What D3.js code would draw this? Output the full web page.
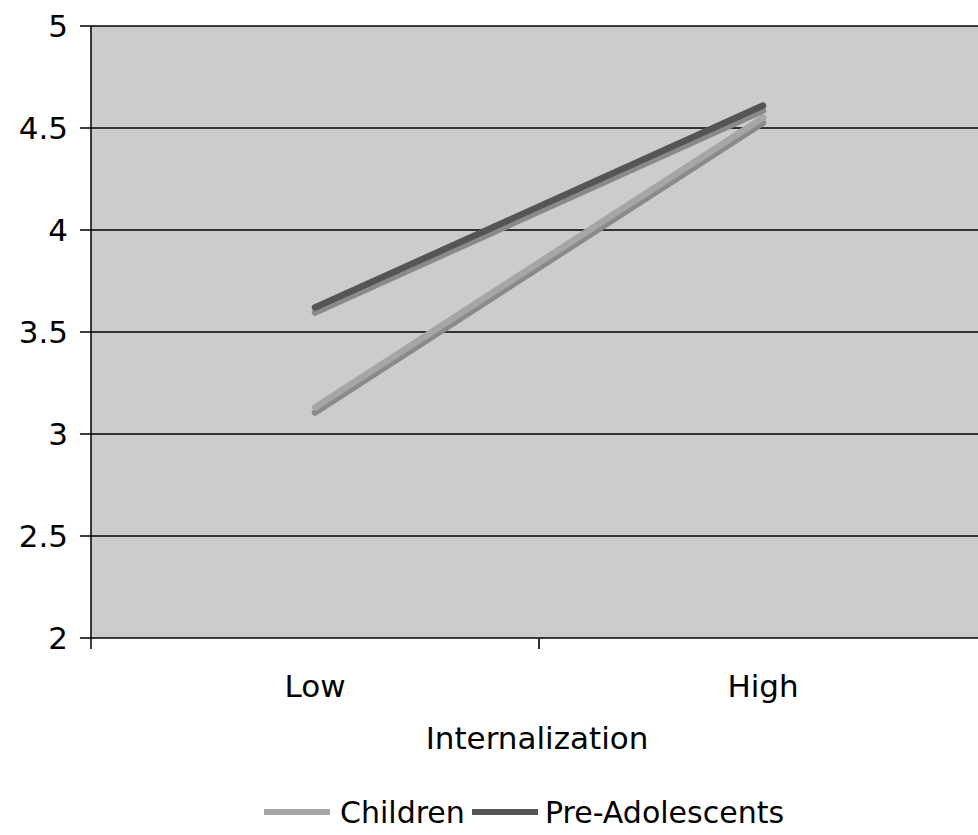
<!DOCTYPE html>
<html><head><meta charset="utf-8">
<script src="https://cdn.jsdelivr.net/npm/d3@7"></script>
<style>body{margin:0;background:#fff}svg{display:block}text{font-family:"DejaVu Sans",Verdana,sans-serif;fill:#000}</style>
</head><body><svg id="c" width="978" height="835"></svg>
<script>
const categories = ["Low", "High"];
const seriesNames = ["Children", "Pre-Adolescents"];
const children = [3.13, 4.55];
const preAdolescents = [3.62, 4.61];
const yTicks = [2, 2.5, 3, 3.5, 4, 4.5, 5];
const xTitle = "Internalization";

(function () {
const colors = {"Children": "#a6a6a6", "Pre-Adolescents": "#555555"};
const series = [
  {name: "Children", values: children},
  {name: "Pre-Adolescents", values: preAdolescents}
];
const svg = d3.select("#c");
const pl = 91, pr = 987, pt = 26, pb = 638;
const fs = 31;
const x = d3.scaleBand().domain(categories).range([pl, pr]);
const y = d3.scaleLinear().domain([2, 5]).range([pb, pt]);

svg.append("rect").attr("x", pl).attr("y", pt).attr("width", pr - pl).attr("height", pb - pt).attr("fill", "#cccccc");

svg.append("g").selectAll("line").data(yTicks).join("line")
  .attr("x1", pl - 11).attr("x2", pr).attr("y1", d => y(d)).attr("y2", d => y(d))
  .attr("stroke", "#000").attr("stroke-width", 1.5);
svg.append("line").attr("x1", pl).attr("x2", pl).attr("y1", pt).attr("y2", pb + 11).attr("stroke", "#000").attr("stroke-width", 1.5);
svg.append("g").selectAll("line").data(categories).join("line")
  .attr("x1", d => x(d) + x.bandwidth()).attr("x2", d => x(d) + x.bandwidth())
  .attr("y1", pb).attr("y2", pb + 11).attr("stroke", "#333").attr("stroke-width", 2);

svg.append("g").selectAll("text").data(yTicks).join("text")
  .attr("x", 68).attr("y", d => y(d) + 11).attr("text-anchor", "end").attr("font-size", fs)
  .text(d => d);
svg.append("g").selectAll("text").data(categories).join("text")
  .attr("x", d => x(d) + x.bandwidth() / 2).attr("y", 697).attr("text-anchor", "middle").attr("font-size", fs)
  .text(d => d);
svg.append("text").attr("x", 537).attr("y", 749).attr("text-anchor", "middle").attr("font-size", fs).text(xTitle);

const line = d3.line().x((d, i) => x(categories[i]) + x.bandwidth() / 2).y(d => y(d));
const g = svg.append("g");
series.forEach(s => {
  g.append("path").attr("d", line(s.values)).attr("transform", "translate(0,5)")
    .attr("fill", "none").attr("stroke", "#8a8a8a").attr("stroke-width", 6.5).attr("stroke-linecap", "round");
  g.append("path").attr("d", line(s.values))
    .attr("fill", "none").attr("stroke", colors[s.name]).attr("stroke-width", 6.5).attr("stroke-linecap", "round");
});

const leg = [{name: "Children", lx: 264, tx: 340}, {name: "Pre-Adolescents", lx: 472, tx: 545}];
leg.forEach(l => {
  svg.append("line").attr("x1", l.lx).attr("x2", l.lx + 66).attr("y1", 812).attr("y2", 812)
    .attr("stroke", colors[l.name]).attr("stroke-width", 6);
  svg.append("text").attr("x", l.tx).attr("y", 823).attr("font-size", 30).text(l.name);
});
})();
</script></body></html>
